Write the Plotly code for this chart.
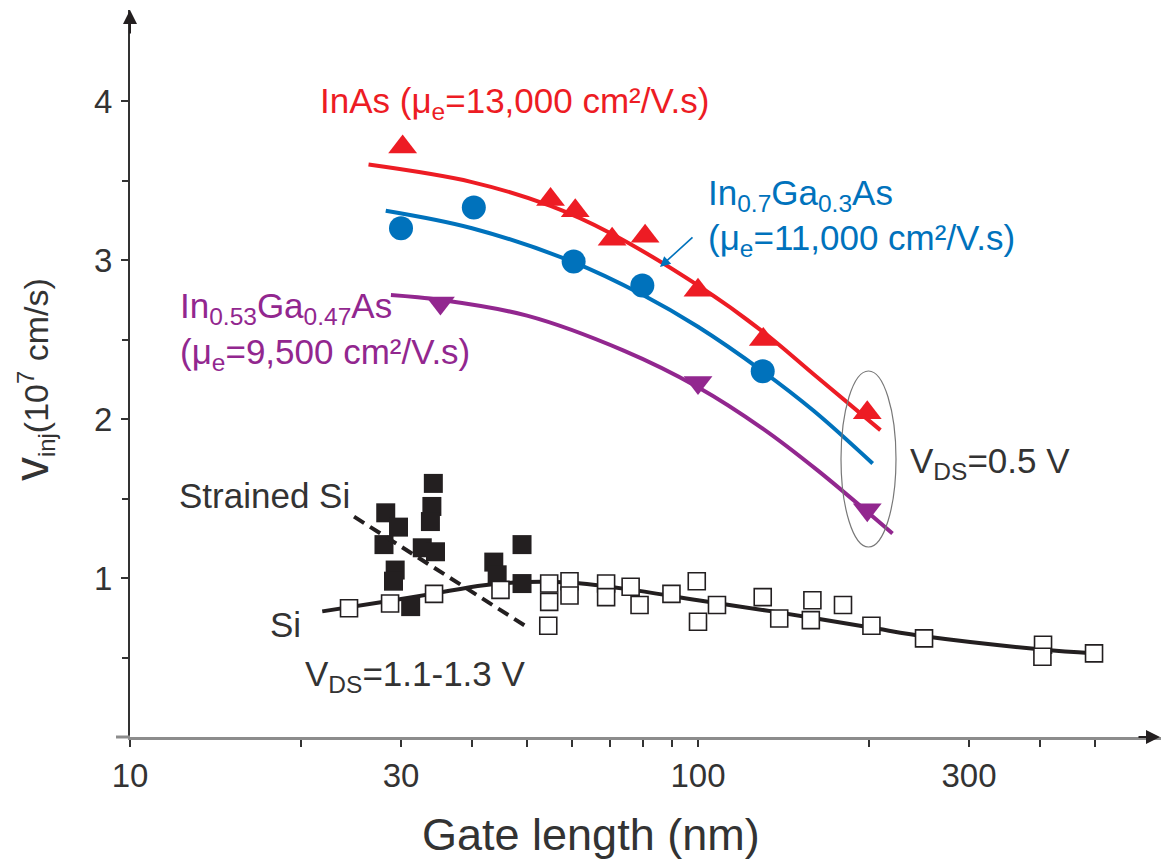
import numpy as np
import plotly.graph_objects as go

# ---------------- data ----------------
# InAs (red, triangles up)
inas_x = [30.2, 55.0, 60.8, 70.6, 80.7, 100.0, 130.3, 198.6]
inas_y = [3.71, 3.38, 3.31, 3.13, 3.15, 2.81, 2.50, 2.04]
inas_fit_x = [26.3, 40.0, 55.0, 70.0, 100.0, 130.0, 160.0, 209.5]
inas_fit_y = [3.60, 3.49, 3.34, 3.17, 2.84, 2.55, 2.28, 1.93]

# In0.7Ga0.3As (blue, circles)
ingaas07_x = [30.0, 40.3, 60.4, 79.8, 130.0]
ingaas07_y = [3.20, 3.33, 2.99, 2.84, 2.30]
ingaas07_fit_x = [28.2, 40.0, 60.0, 80.0, 100.0, 130.0, 160.0, 203.0]
ingaas07_fit_y = [3.31, 3.20, 2.99, 2.78, 2.58, 2.30, 2.05, 1.72]

# In0.53Ga0.47As (purple, triangles down)
ingaas053_x = [35.2, 100.0, 198.6]
ingaas053_y = [2.73, 2.23, 1.43]
ingaas053_fit_x = [28.8, 35.0, 50.0, 74.0, 100.0, 130.0, 162.0, 220.0]
ingaas053_fit_y = [2.78, 2.75, 2.65, 2.43, 2.20, 1.94, 1.68, 1.28]

# Si (open squares)
si_x = [24.3, 28.7, 34.3, 44.9, 54.7, 54.7, 54.5, 59.4, 59.4, 68.9, 68.9, 76.1,
        78.9, 89.8, 99.5, 100.0, 108.0, 130.0, 139.0, 159.0, 158.0, 180.0, 202.0,
        250.0, 405.0, 404.0, 498.0]
si_y = [0.81, 0.84, 0.90, 0.925, 0.965, 0.85, 0.70, 0.98, 0.89, 0.965, 0.88, 0.945,
        0.83, 0.90, 0.98, 0.725, 0.83, 0.88, 0.745, 0.86, 0.735, 0.83, 0.70,
        0.62, 0.58, 0.505, 0.526]
si_fit_x = [21.8, 28.0, 34.0, 42.0, 50.0, 60.0, 75.0, 100.0, 135.0, 200.0, 254.0, 404.0, 495.0]
si_fit_y = [0.79, 0.85, 0.90, 0.955, 0.975, 0.97, 0.93, 0.86, 0.79, 0.69, 0.63, 0.55, 0.526]

# Strained Si (filled squares)
ssi_x = [28.2, 29.7, 28.0, 34.2, 34.0, 33.8, 32.7, 34.5, 29.3, 29.1, 31.2, 43.7, 44.3, 49.0, 49.0]
ssi_y = [1.41, 1.32, 1.21, 1.595, 1.45, 1.355, 1.19, 1.165, 1.05, 0.98, 0.82, 1.10, 1.02, 1.21, 0.965]
ssi_fit_x = [24.8, 50.4]
ssi_fit_y = [1.386, 0.684]

# axes
x_tick_vals = [10, 30, 100, 300]
x_tick_text = ["10", "30", "100", "300"]
x_minor_vals = [20, 40, 50, 60, 70, 80, 90, 200, 400, 500]
y_tick_vals = [1, 2, 3, 4]
y_minor_vals = [0.5, 1.5, 2.5, 3.5]

# ---------------- styling ----------------
RED = "#ED1C24"
BLUE = "#0072BC"
PURPLE = "#92278F"
BLACK = "#231F20"
TXT = "#333333"
FONT = "Liberation Sans, Arial, sans-serif"
LBL = 35

W, H = 1161, 861
L, R, T, B = 130, 0, 10, 124
PW, PH = W - L - R, H - T - B
XR = [1.0, 1.0 + PW / 568.0]
YR = [0.0, PH / 159.0]


def px(xp):
    return (xp - L) / PW


def py(yp):
    return (H - B - yp) / PH


fig = go.Figure()

# Si fit line
fig.add_trace(go.Scatter(x=si_fit_x, y=si_fit_y, mode="lines",
                         line=dict(color=BLACK, width=4, shape="spline", smoothing=1.0),
                         hoverinfo="skip"))
# strained Si markers
fig.add_trace(go.Scatter(x=ssi_x, y=ssi_y, mode="markers",
                         marker=dict(symbol="square", size=19, color=BLACK,
                                     line=dict(width=0))))
# strained Si dashed
fig.add_trace(go.Scatter(x=ssi_fit_x, y=ssi_fit_y, mode="lines",
                         line=dict(color=BLACK, width=4, dash="12px,7px")))
# Si open squares
fig.add_trace(go.Scatter(x=si_x, y=si_y, mode="markers",
                         marker=dict(symbol="square", size=17, color="white",
                                     line=dict(width=1.6, color=BLACK))))

# III-V fits
for fx, fy, col in [(ingaas053_fit_x, ingaas053_fit_y, PURPLE),
                    (ingaas07_fit_x, ingaas07_fit_y, BLUE),
                    (inas_fit_x, inas_fit_y, RED)]:
    fig.add_trace(go.Scatter(x=fx, y=fy, mode="lines",
                             line=dict(color=col, width=4, shape="spline", smoothing=1.0)))

fig.add_trace(go.Scatter(x=ingaas053_x, y=ingaas053_y, mode="markers",
                         marker=dict(symbol="triangle-down", size=25, color=PURPLE)))
fig.add_trace(go.Scatter(x=ingaas07_x, y=ingaas07_y, mode="markers",
                         marker=dict(symbol="circle", size=24, color=BLUE)))
fig.add_trace(go.Scatter(x=inas_x, y=inas_y, mode="markers",
                         marker=dict(symbol="triangle-up", size=25, color=RED)))

tickfont = dict(family=FONT, size=33, color=TXT)

fig.update_layout(
    width=W, height=H,
    margin=dict(l=L, r=R, t=T, b=B, pad=0),
    paper_bgcolor="white", plot_bgcolor="white",
    showlegend=False,
    font=dict(family=FONT, color=TXT),
    xaxis=dict(type="log", range=XR, showgrid=False, zeroline=False,
               showline=True, linecolor="#8c8c8c", linewidth=3,
               tickvals=x_tick_vals, ticktext=x_tick_text,
               ticks="outside", ticklen=7, tickwidth=1.5, tickcolor=TXT,
               tickfont=tickfont, ticklabelstandoff=0,
               minor=dict(tickvals=x_minor_vals, ticks="outside", ticklen=7,
                          tickwidth=1.5, tickcolor=TXT)),
    xaxis2=dict(type="log", range=XR, overlaying="x", anchor="y", side="bottom",
                showgrid=False, zeroline=False, showline=False, showticklabels=False,
                tickvals=x_tick_vals + x_minor_vals, ticks="inside", ticklen=8,
                tickwidth=1.5, tickcolor=TXT),
    yaxis=dict(range=YR, showgrid=False, zeroline=False,
               showline=True, linecolor=TXT, linewidth=2,
               tickvals=y_tick_vals, ticks="outside", ticklen=7, tickwidth=2,
               tickcolor=TXT, tickfont=tickfont, ticklabelstandoff=2,
               minor=dict(tickvals=y_minor_vals, ticks="outside", ticklen=6,
                          tickwidth=1.5, tickcolor=TXT)),
    yaxis2=dict(range=YR, overlaying="y", anchor="x", side="left",
                showgrid=False, zeroline=False, showline=False, showticklabels=False,
                tickvals=y_tick_vals, ticks="inside", ticklen=15, tickwidth=2,
                tickcolor=TXT,
                minor=dict(tickvals=y_minor_vals, ticks="inside", ticklen=12,
                           tickwidth=1.5, tickcolor=TXT)),
)

# x-axis extension to the left of the y axis
fig.add_shape(type="line", xref="paper", yref="paper", x0=px(116), x1=0, y0=0, y1=0,
              line=dict(color="#8c8c8c", width=3))
# ellipse around VDS=0.5 V end points
fig.add_shape(type="circle", xref="paper", yref="paper",
              x0=px(841), x1=px(896), y0=py(547), y1=py(371),
              line=dict(color="#777777", width=1.2))

ann = []
# axis arrowheads
ann.append(dict(xref="paper", yref="paper", x=0, y=py(10), ax=0, ay=25, text="",
                showarrow=True, arrowhead=2, arrowsize=1.4, arrowwidth=2, arrowcolor=BLACK))
ann.append(dict(xref="paper", yref="paper", x=px(1162), y=0, ax=-25, ay=0, text="",
                showarrow=True, arrowhead=2, arrowsize=1.4, arrowwidth=2, arrowcolor=BLACK))

# x title
ann.append(dict(xref="paper", yref="paper", x=px(591), y=py(834), xanchor="center",
                yanchor="middle", showarrow=False, text="Gate length (nm)",
                font=dict(family=FONT, size=45, color=TXT)))
# y title
ann.append(dict(xref="paper", yref="paper", x=px(33), y=py(380), xanchor="center", yanchor="middle",
                textangle=-90, showarrow=False,
                text="<span style='font-size:48px'>v</span><sub>inj</sub>(10<sup>7</sup> cm/s)",
                font=dict(family=FONT, size=34, color=TXT)))


def label(text, x, y, color, size=LBL):
    ann.append(dict(xref="paper", yref="paper", x=px(x), y=py(y), xanchor="left",
                    yanchor="middle", showarrow=False, text=text,
                    font=dict(family=FONT, size=size, color=color)))


label("InAs (μ<sub>e</sub>=13,000 cm²/V.s)", 318, 103, RED)
label("In<sub>0.7</sub>Ga<sub>0.3</sub>As", 706, 195, BLUE)
label("(μ<sub>e</sub>=11,000 cm²/V.s)", 706, 240, BLUE)
label("In<sub>0.53</sub>Ga<sub>0.47</sub>As", 178, 308, PURPLE)
label("(μ<sub>e</sub>=9,500 cm²/V.s)", 178, 354, PURPLE)
label("Strained Si", 177, 495, TXT)
label("Si", 268, 624, TXT)
label("V<sub>DS</sub>=1.1-1.3 V", 303, 676, TXT)
label("V<sub>DS</sub>=0.5 V", 908, 463, TXT)

# blue pointer arrow
ann.append(dict(xref="paper", yref="paper", x=px(660), y=py(267), ax=34, ay=-31, text="",
                showarrow=True, arrowhead=2, arrowsize=1.3, arrowwidth=1.6, arrowcolor=BLUE))

fig.update_layout(annotations=ann)

fig.write_html("out.html", config={"displayModeBar": False},
               post_script="document.body.style.margin='0px';document.body.style.overflow='hidden';")
